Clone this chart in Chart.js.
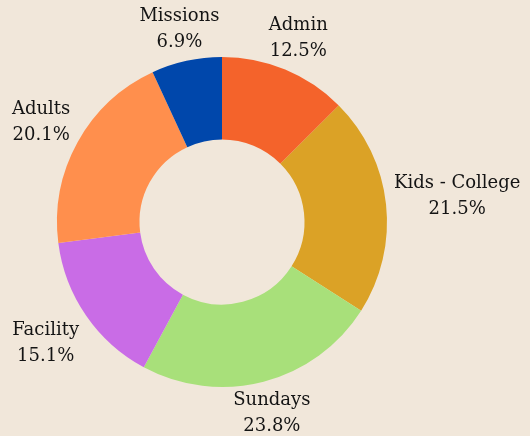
<!DOCTYPE html>
<html>
<head>
<meta charset="utf-8">
<script src="https://cdn.jsdelivr.net/npm/chart.js@4"></script>
<style>
  html, body { margin: 0; padding: 0; background: #f1e7da; }
  #wrap { width: 530px; height: 436px; }
</style>
</head>
<body>
<div id="wrap"><canvas id="budgetChart"></canvas></div>
<script>
const categories = ['Admin', 'Kids - College', 'Sundays', 'Facility', 'Adults', 'Missions'];
const shares = [12.5, 21.5, 23.8, 15.1, 20.1, 6.9];
const sliceColors = ['#f4632b', '#dba226', '#a8e07a', '#c96ce6', '#ff8f4d', '#0047ab'];

// labels outside each slice: the box edge sits on the mid-angle ray
const outsideLabels = {
    id: 'outsideLabels',
    afterDatasetsDraw(chart) {
        const ctx = chart.ctx;
        const meta = chart.getDatasetMeta(0);
        ctx.save();
        ctx.font = '18px "DejaVu Serif"';
        ctx.fillStyle = '#141414';
        ctx.textAlign = 'center';
        ctx.textBaseline = 'middle';
        const lineH = 26;
        meta.data.forEach((arc, i) => {
            const p = arc.getProps(['x', 'y', 'startAngle', 'endAngle', 'outerRadius'], true);
            const mid = (p.startAngle + p.endAngle) / 2;
            const vx = Math.cos(mid), vy = Math.sin(mid);
            const lines = [categories[i], shares[i].toFixed(1) + '%'];
            const w = Math.max(...lines.map(t => ctx.measureText(t).width)) + 4;
            const h = lines.length * lineH;
            const d = Math.min(w / 2 / Math.max(Math.abs(vx), 1e-6), h / 2 / Math.max(Math.abs(vy), 1e-6));
            const r = p.outerRadius + 6;
            const cx = p.x + vx * (r + d);
            const cy = p.y + vy * (r + d);
            lines.forEach((t, j) => {
                ctx.fillText(t, cx, cy - h / 2 + lineH / 2 + j * lineH);
            });
        });
        ctx.restore();
    }
};

new Chart(document.getElementById('budgetChart'), {
    type: 'doughnut',
    data: {
        labels: categories,
        datasets: [{
            data: shares,
            backgroundColor: sliceColors,
            borderWidth: 0
        }]
    },
    options: {
        responsive: true,
        maintainAspectRatio: false,
        animation: false,
        cutout: '50%',
        layout: { padding: { left: 57, right: 143, top: 57, bottom: 49 } },
        plugins: {
            legend: { display: false },
            tooltip: { enabled: false }
        }
    },
    plugins: [outsideLabels]
});
</script>
</body>
</html>
